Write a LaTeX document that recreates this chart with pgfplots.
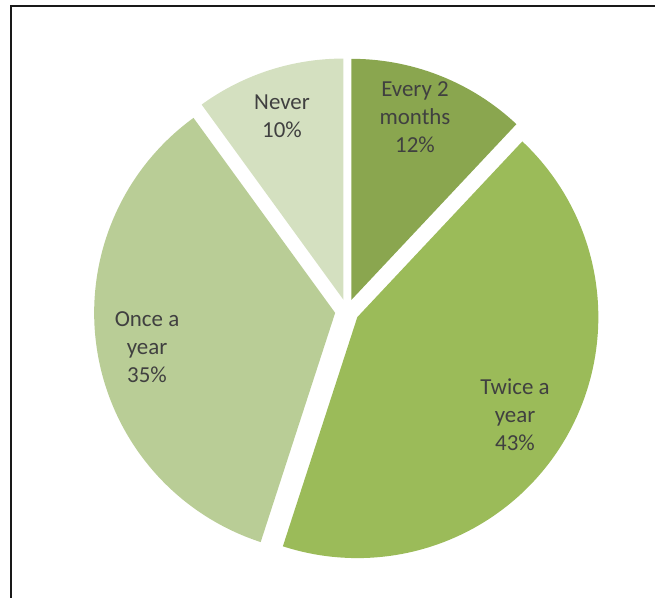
\documentclass[border=0pt]{standalone}
\usepackage{pgfplots}
\pgfplotsset{compat=1.18}
\usepackage{fontspec}
\setmainfont{Carlito}
\definecolor{cA}{HTML}{8AA64F}
\definecolor{cB}{HTML}{9BBB59}
\definecolor{cC}{HTML}{B9CD96}
\definecolor{cD}{HTML}{D4E0C0}
\definecolor{tg}{HTML}{404040}
\def\cx{347}\def\cy{287}\def\rr{241}\def\dd{12}
% #1 cumulative percent before slice, #2 slice percent, #3 colour
\newcommand\pieslice[3]{%
  \pgfmathsetmacro\sa{90-3.6*(#1)}%
  \pgfmathsetmacro\ea{90-3.6*((#1)+(#2))}%
  \pgfmathsetmacro\ma{(\sa+\ea)/2}%
  \pgfmathsetmacro\tx{\cx+\dd*cos(\ma)}%
  \pgfmathsetmacro\ty{\cy+\dd*sin(\ma)}%
  \edef\doit{\noexpand\addplot[fill=#3,draw=none,domain=\ea:\sa,samples=120,variable=\noexpand\t]
    ({\tx+\rr*cos(\noexpand\t)},{\ty+\rr*sin(\noexpand\t)}) -- (axis cs:\tx,\ty) -- cycle;}%
  \doit
}
\begin{document}
\begin{tikzpicture}[x=1bp,y=1bp]
\path[use as bounding box] (0,0) rectangle (655,598);
\begin{axis}[at={(0,0)},anchor=south west,scale only axis,width=655bp,height=598bp,
  xmin=0,xmax=655,ymin=0,ymax=598,hide axis,clip=false]
% data: Every 2 months 12, Twice a year 43, Once a year 35, Never 10
\pieslice{0}{12}{cA}
\pieslice{12}{43}{cB}
\pieslice{55}{35}{cC}
\pieslice{90}{10}{cD}
\begin{scope}[every node/.style={align=center,text=tg,font=\fontsize{23}{28}\selectfont}]
\node at (axis cs:415,481) {Every 2\\months\\12\%};
\node at (axis cs:515,183) {Twice a\\year\\43\%};
\node at (axis cs:147,251) {Once a\\year\\35\%};
\node at (axis cs:282,482) {Never\\10\%};
\end{scope}
\end{axis}
\draw[line width=2bp,color=black!90] (11,0) -- (11,592) -- (655,592);
\end{tikzpicture}
\end{document}
